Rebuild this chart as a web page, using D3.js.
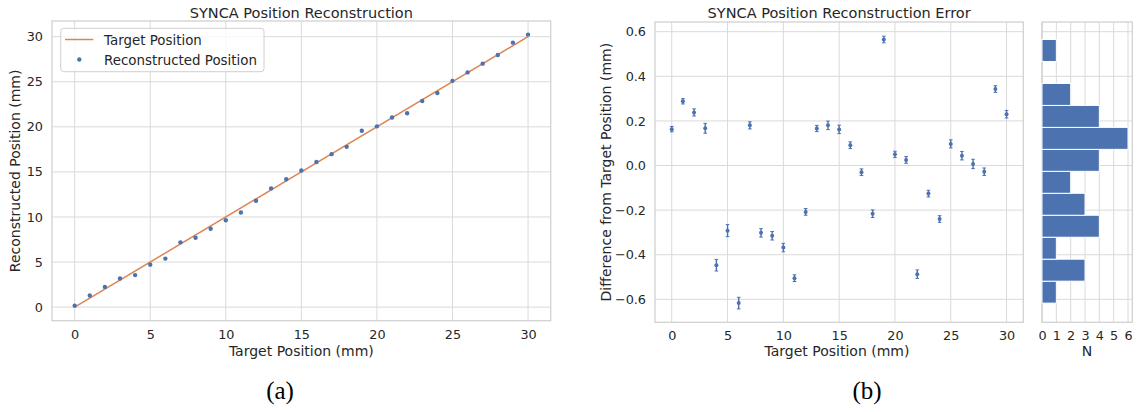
<!DOCTYPE html>
<html><head><meta charset="utf-8">
<script src="https://cdn.jsdelivr.net/npm/d3@7"></script>
<style>
body{margin:0;background:#fff;}
svg text{font-family:"DejaVu Sans",sans-serif;fill:#262626;}
</style></head>
<body><svg id="c" width="1137" height="412"></svg>
<script>
const targets = [0,1,2,3,4,5,6,7,8,9,10,11,12,13,14,15,16,17,18,19,20,21,22,23,24,25,26,27,28,29,30];
const reconstructed = [0.16,1.29,2.24,3.17,3.55,4.71,5.38,7.18,7.70,8.69,9.63,10.50,11.79,13.17,14.18,15.16,16.09,16.97,17.78,19.57,20.05,21.03,21.51,22.87,23.76,25.10,26.04,27.01,27.97,29.34,30.23];
const diffs = [0.163,0.288,0.238,0.167,-0.447,-0.292,-0.617,0.180,-0.302,-0.315,-0.368,-0.505,-0.208,0.166,0.180,0.162,0.091,-0.030,-0.216,0.565,0.050,0.025,-0.487,-0.126,-0.240,0.097,0.044,0.007,-0.028,0.343,0.230];
const diffErr = [0.012,0.012,0.016,0.022,0.026,0.027,0.026,0.016,0.019,0.019,0.019,0.015,0.015,0.014,0.019,0.019,0.015,0.015,0.017,0.015,0.014,0.015,0.019,0.015,0.015,0.018,0.019,0.021,0.017,0.015,0.017];
const histCounts = [1,3,1,4,3,2,4,6,4,2,0,1]; // bins from low to high
const leftXTicks = [0,5,10,15,20,25,30];
const leftYTicks = [0,5,10,15,20,25,30];
const rightYTicks = [-0.6,-0.4,-0.2,0.0,0.2,0.4,0.6];
const histXTicks = [0,1,2,3,4,5,6];

const blue = "#4C72B0", orange = "#DD8452", grid = "#dadada", frameCol = "#d0d0d0";
const FONT = "DejaVu Sans";
const TICK = "12.8px", LABEL = "14px", TITLE = "14.5px";
const svg = d3.select("#c");
const fmtMinus = s => s.replace("-", "\u2212");

function frame(g, x0, y0, w, h){
  g.append("rect").attr("x",x0).attr("y",y0).attr("width",w).attr("height",h)
   .attr("fill","none").attr("stroke",frameCol).attr("stroke-width",1.25);
}
function gridLines(g, xs, ys, xScale, yScale, x0, x1, y0, y1){
  xs.forEach(v=>g.append("line").attr("x1",xScale(v)).attr("x2",xScale(v)).attr("y1",y0).attr("y2",y1).attr("stroke",grid).attr("stroke-width",1));
  ys.forEach(v=>g.append("line").attr("y1",yScale(v)).attr("y2",yScale(v)).attr("x1",x0).attr("x2",x1).attr("stroke",grid).attr("stroke-width",1));
}
function styleAxis(sel){
  sel.attr("font-family",FONT).attr("font-size",TICK);
  sel.select(".domain").remove();
  sel.selectAll("text").style("font-size",TICK).style("font-family",FONT).attr("fill","#262626");
}
function label(g, x, y, txt, size, rot){
  const t = g.append("text").attr("text-anchor","middle").style("font-size",size).style("font-family",FONT).text(txt);
  if(rot) t.attr("transform",`translate(${x},${y}) rotate(-90)`); else t.attr("x",x).attr("y",y);
  return t;
}

// ---------- Panel (a) ----------
const aL=52, aR=550.7, aT=21, aB=320.7;
const xa = d3.scaleLinear().domain([-1.5,31.5]).range([aL,aR]);
const ya = d3.scaleLinear().domain([-1.51,31.74]).range([aB,aT]);
const ga = svg.append("g");
gridLines(ga, leftXTicks, leftYTicks, xa, ya, aL, aR, aT, aB);
frame(ga, aL, aT, aR-aL, aB-aT);
ga.append("g").attr("transform",`translate(0,${aB})`)
  .call(d3.axisBottom(xa).tickValues(leftXTicks).tickSize(0).tickPadding(9)).call(styleAxis);
ga.append("g").attr("transform",`translate(${aL},0)`)
  .call(d3.axisLeft(ya).tickValues(leftYTicks).tickSize(0).tickPadding(9)).call(styleAxis);
ga.append("line").attr("x1",xa(0)).attr("y1",ya(0)).attr("x2",xa(30)).attr("y2",ya(30))
  .attr("stroke",orange).attr("stroke-width",1.5);
ga.selectAll("circle.p").data(targets).join("circle").attr("class","p")
  .attr("cx",d=>xa(d)).attr("cy",(d,i)=>ya(reconstructed[i])).attr("r",2.2).attr("fill",blue);
label(ga, (aL+aR)/2, 18, "SYNCA Position Reconstruction", TITLE);
label(ga, (aL+aR)/2, 356, "Target Position (mm)", LABEL);
label(ga, 20, (aT+aB)/2, "Reconstructed Position (mm)", LABEL, true);
// legend
const lg = ga.append("g");
lg.append("rect").attr("x",60.7).attr("y",28.3).attr("width",203.3).attr("height",43.4).attr("rx",3)
  .attr("fill","#fff").attr("fill-opacity",0.8).attr("stroke",frameCol);
lg.append("line").attr("x1",65).attr("x2",93.3).attr("y1",39.5).attr("y2",39.5).attr("stroke",orange).attr("stroke-width",1.5);
lg.append("text").attr("x",104).attr("y",44.5).style("font-size","13.4px").style("font-family",FONT).text("Target Position");
lg.append("circle").attr("cx",79.3).attr("cy",59.5).attr("r",2.2).attr("fill",blue);
lg.append("text").attr("x",104).attr("y",64.5).style("font-size","13.4px").style("font-family",FONT).text("Reconstructed Position");
svg.append("text").attr("x",280).attr("y",398.5).attr("text-anchor","middle")
  .style("font-family","'Liberation Serif',serif").style("font-size","25px").style("fill","#000").text("(a)");

// ---------- Panel (b) scatter ----------
const bL=655, bR=1023.3, bT=22, bB=322.3;
const xb = d3.scaleLinear().domain([-1.5,31.5]).range([bL,bR]);
const yb = d3.scaleLinear().domain([-0.703,0.6435]).range([bB,bT]);
const gb = svg.append("g");
gridLines(gb, leftXTicks, rightYTicks, xb, yb, bL, bR, bT, bB);
frame(gb, bL, bT, bR-bL, bB-bT);
gb.append("g").attr("transform",`translate(0,${bB})`)
  .call(d3.axisBottom(xb).tickValues(leftXTicks).tickSize(0).tickPadding(9)).call(styleAxis);
gb.append("g").attr("transform",`translate(${bL},0)`)
  .call(d3.axisLeft(yb).tickValues(rightYTicks).tickSize(0).tickPadding(9).tickFormat(d=>fmtMinus(d3.format(".1f")(d)))).call(styleAxis);
const eb = gb.selectAll("g.eb").data(targets).join("g").attr("class","eb");
eb.append("line").attr("x1",d=>xb(d)).attr("x2",d=>xb(d))
  .attr("y1",(d,i)=>yb(diffs[i]-diffErr[i])).attr("y2",(d,i)=>yb(diffs[i]+diffErr[i]))
  .attr("stroke",blue).attr("stroke-width",1.4);
[-1,1].forEach(s=>eb.append("line").attr("x1",d=>xb(d)-1.8).attr("x2",d=>xb(d)+1.8)
  .attr("y1",(d,i)=>yb(diffs[i]+s*diffErr[i])).attr("y2",(d,i)=>yb(diffs[i]+s*diffErr[i]))
  .attr("stroke",blue).attr("stroke-width",1));
eb.append("circle").attr("cx",d=>xb(d)).attr("cy",(d,i)=>yb(diffs[i])).attr("r",2).attr("fill",blue);
label(gb, (bL+bR)/2, 18, "SYNCA Position Reconstruction Error", TITLE);
label(gb, 837, 356, "Target Position (mm)", LABEL);
label(gb, 611, (bT+bB)/2, "Difference from Target Position (mm)", LABEL, true);
svg.append("text").attr("x",867).attr("y",398.5).attr("text-anchor","middle")
  .style("font-family","'Liberation Serif',serif").style("font-size","25px").style("fill","#000").text("(b)");

// ---------- Histogram ----------
const hL=1042, hR=1132.3, hT=22, hB=322.3;
const xh = d3.scaleLinear().domain([0,6.3]).range([hL,hR]);
const gh = svg.append("g");
gridLines(gh, histXTicks, rightYTicks, xh, yb, hL, hR, hT, hB);
frame(gh, hL, hT, hR-hL, hB-hT);
const dMin = d3.min(diffs), dMax = d3.max(diffs), bw = (dMax-dMin)/histCounts.length;
gh.selectAll("rect.bar").data(histCounts).join("rect").attr("class","bar")
  .attr("x",xh(0)).attr("width",d=>xh(d)-xh(0))
  .attr("y",(d,i)=>yb(dMin+(i+1)*bw)).attr("height",(d,i)=>yb(dMin+i*bw)-yb(dMin+(i+1)*bw))
  .attr("fill",blue).attr("stroke","#fff").attr("stroke-width",1)
  .style("display",d=>d>0?null:"none");
gh.append("g").attr("transform",`translate(0,${hB})`)
  .call(d3.axisBottom(xh).tickValues(histXTicks).tickSize(0).tickPadding(9).tickFormat(d3.format("d"))).call(styleAxis);
label(gh, 1087, 356, "N", LABEL);
</script></body></html>
